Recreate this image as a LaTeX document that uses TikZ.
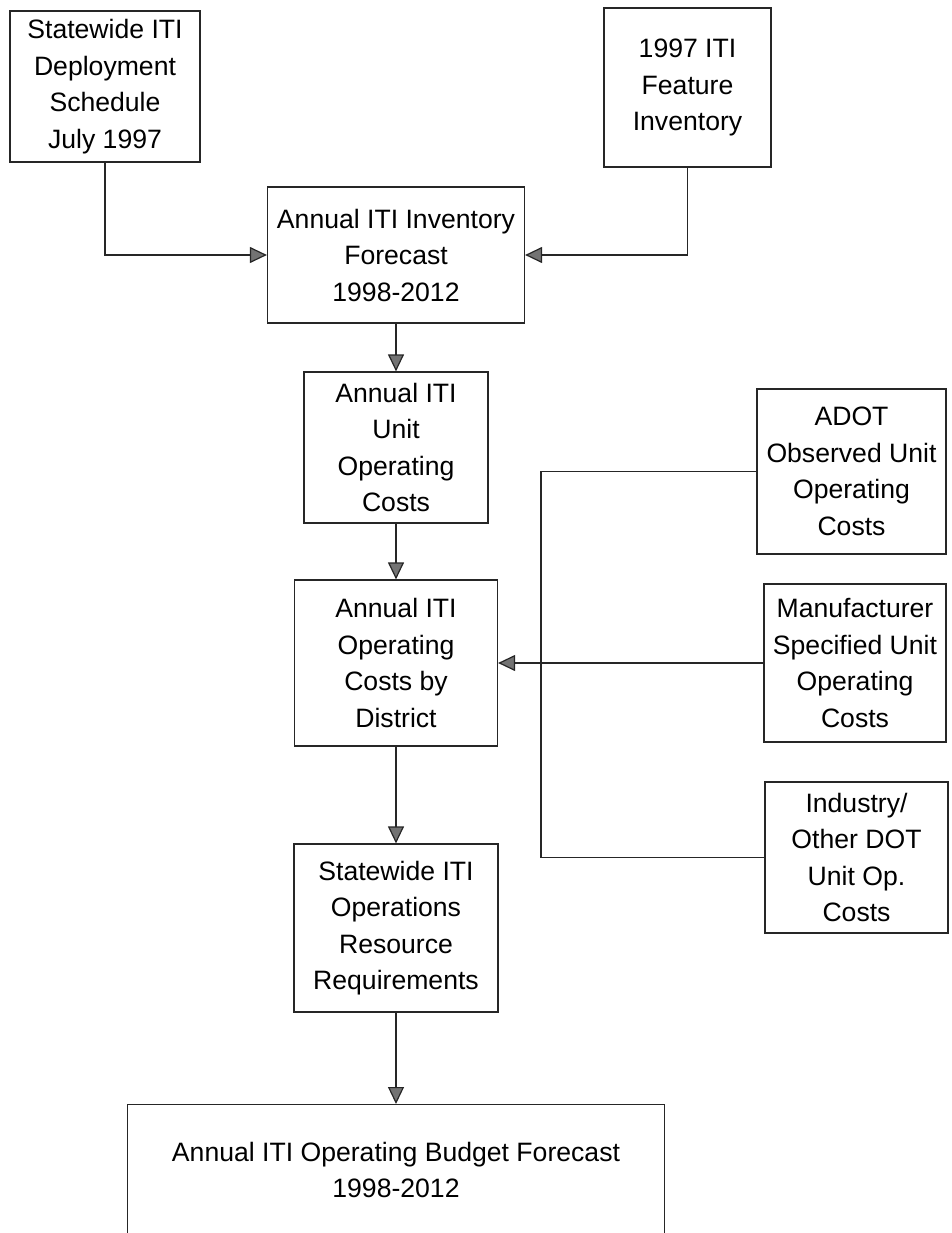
\documentclass[tikz,border=0pt]{standalone}
\usepackage{fontspec}
\setmainfont{Liberation Sans}
\usetikzlibrary{arrows.meta}
\tikzset{
  box/.style={draw=black!85, line width=1.2pt, rectangle, align=center, inner sep=0pt,
    font=\fontsize{26.6}{36.5}\selectfont},
  conn/.style={draw=black!85, line width=1.2pt},
  arr/.style={conn, -{Triangle[length=17pt,width=16pt,fill=black!55]}}
}
\begin{document}
\begin{tikzpicture}[x=1pt,y=-1pt]
\useasboundingbox (0,0) rectangle (951,1233);
\clip (0,0) rectangle (951,1233);
\node[box, minimum width=190pt, minimum height=151pt] (b1) at (105,86.5) {Statewide ITI\\Deployment\\Schedule\\July 1997};
\node[box, minimum width=167pt, minimum height=159pt] (b2) at (687.5,87.5) {1997 ITI\\Feature\\Inventory};
\node[box, minimum width=257pt, minimum height=136pt] (b3) at (396,255) {Annual ITI Inventory\\Forecast\\1998-2012};
\node[box, minimum width=184pt, minimum height=151pt] (b4) at (396,447.5) {Annual ITI\\Unit\\Operating\\Costs};
\node[box, minimum width=203pt, minimum height=166pt] (b5) at (396,663) {Annual ITI\\Operating\\Costs by\\District};
\node[box, minimum width=204pt, minimum height=168pt] (b6) at (396,928) {Statewide ITI\\Operations\\Resource\\Requirements};
\node[box, minimum width=537pt, minimum height=131pt, anchor=north] (b7) at (396,1104) {Annual ITI Operating Budget Forecast\\1998-2012};
\node[box, minimum width=189pt, minimum height=165pt] (b8) at (851.5,471.5) {ADOT\\Observed Unit\\Operating\\Costs};
\node[box, minimum width=182pt, minimum height=158pt] (b9) at (855,663) {Manufacturer\\Specified Unit\\Operating\\Costs};
\node[box, minimum width=183pt, minimum height=151pt] (b10) at (856.5,857.5) {Industry/\\Other DOT\\Unit Op.\\Costs};
\coordinate (j1) at (541,471.5);
\coordinate (j2) at (541,857.5);
\draw[arr] (b1.south) |- (b3.west);
\draw[arr] (b2.south) |- (b3.east);
\draw[arr] (b3.south) -- (b4.north);
\draw[arr] (b4.south) -- (b5.north);
\draw[arr] (b5.south) -- (b6.north);
\draw[arr] (b6.south) -- (b7.north);
\draw[arr] (b9.west) -- (b5.east);
\draw[conn] (b8.west) -- (j1) -- (j2) -- (b10.west);
\end{tikzpicture}
\end{document}
